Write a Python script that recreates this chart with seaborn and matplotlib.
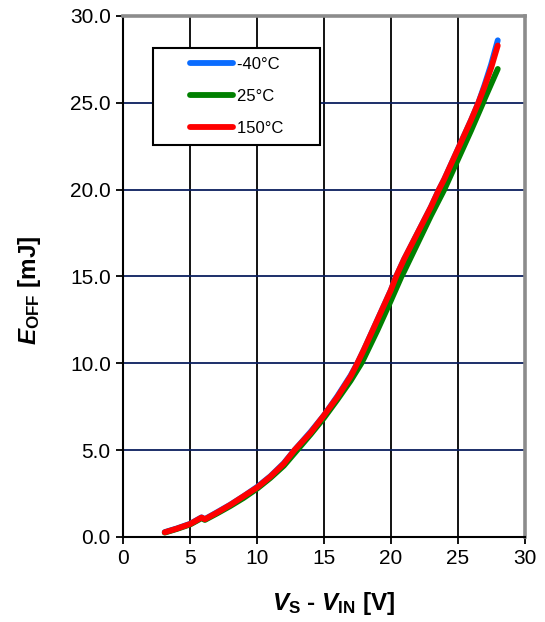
import numpy as np
import pandas as pd
import matplotlib
matplotlib.use('Agg')
import matplotlib.pyplot as plt
import seaborn as sns
from matplotlib.lines import Line2D
from matplotlib.legend_handler import HandlerLine2D

# ── datos ──
x_m40 = [3.1, 4, 5, 5.85, 6.1, 7, 8, 9, 10, 11, 12, 12.8, 14, 15, 16, 17, 17.5,
         18, 19, 20, 20.4, 21, 22, 23, 23.6, 24, 25, 26, 26.55, 27, 27.5, 28]
y_m40 = [0.28, 0.49, 0.76, 1.13, 1.03, 1.42, 1.86, 2.35, 2.88, 3.5, 4.25, 5.0, 6.05, 7.0, 8.1, 9.3, 10.0,
         10.8, 12.5, 14.2, 15.0, 16.0, 17.5, 19.0, 20.0, 20.6, 22.3, 24.0, 25.0, 26.0, 27.2, 28.6]

x_25 = [3.1, 4, 5, 5.85, 6.1, 7, 8, 9, 10, 11, 12, 13, 14, 15, 16, 17, 17.8,
        18, 19, 20, 20.8, 21, 22, 23, 24, 25, 26, 26.9, 27, 28]
y_25 = [0.25, 0.46, 0.72, 1.08, 0.98, 1.35, 1.78, 2.25, 2.78, 3.4, 4.1, 5.0, 5.9, 6.85, 7.9, 9.0, 10.0,
        10.3, 11.9, 13.6, 15.0, 15.3, 16.9, 18.5, 20.0, 21.7, 23.4, 25.0, 25.2, 26.95]

x_150 = [3.1, 4, 5, 5.85, 6.1, 7, 8, 9, 10, 11, 12, 12.8, 14, 15, 16, 17, 17.5,
         18, 19, 20, 20.4, 21, 22, 23, 23.6, 24, 25, 26, 26.55, 27, 27.5, 28]
y_150 = [0.27, 0.48, 0.75, 1.12, 1.02, 1.4, 1.85, 2.35, 2.85, 3.48, 4.22, 5.0, 6.0, 7.0, 8.05, 9.25, 10.0,
         10.8, 12.5, 14.2, 15.0, 16.0, 17.5, 19.0, 20.0, 20.6, 22.3, 24.0, 25.0, 25.9, 27.0, 28.3]

etiquetas = ['-40°C', '25°C', '150°C']
colores = ['#0a6cff', '#008000', '#ff0000']

x_ticks = [0, 5, 10, 15, 20, 25, 30]
y_ticks = [0, 5, 10, 15, 20, 25, 30]

sns.set_style('white')
plt.rcParams['font.family'] = ['Liberation Sans', 'DejaVu Sans']
plt.rcParams['text.color'] = 'black'
plt.rcParams['axes.labelcolor'] = 'black'
plt.rcParams['xtick.color'] = 'black'
plt.rcParams['ytick.color'] = 'black'
plt.rcParams['mathtext.fontset'] = 'custom'
plt.rcParams['mathtext.rm'] = 'Liberation Sans:bold'
plt.rcParams['mathtext.it'] = 'Liberation Sans:italic:bold'
plt.rcParams['mathtext.bf'] = 'Liberation Sans:bold'

fig = plt.figure(figsize=(5.45, 6.22), dpi=100)
ax = fig.add_axes([0.2262, 0.1367, 0.7362, 0.8376])

series = [(x_m40, y_m40), (x_25, y_25), (x_150, y_150)]
for (xs, ys), lab, col in zip(series, etiquetas, colores):
    df = pd.DataFrame({'x': xs, 'y': ys})
    sns.lineplot(data=df, x='x', y='y', ax=ax, color=col, label=lab, sort=False,
                 linewidth=4.2, solid_capstyle='round', zorder=3)

ax.set_xlim(0, 30)
ax.set_ylim(0, 30)
ax.set_xticks(x_ticks)
ax.set_yticks(y_ticks)
ax.set_yticklabels([f'{v:.1f}' for v in y_ticks])

# rejilla
for v in x_ticks[1:-1]:
    ax.axvline(v, color='black', lw=1.3, zorder=1)
for v in y_ticks[1:-1]:
    ax.axhline(v, color='#0b1f5e', lw=1.3, zorder=1)

for s in ['left', 'bottom']:
    ax.spines[s].set_color('black')
    ax.spines[s].set_linewidth(1.5)
for s in ['top', 'right']:
    ax.spines[s].set_color('#8c8c8c')
    ax.spines[s].set_linewidth(2.6)

ax.tick_params(axis='both', direction='out', length=5, width=1.3, color='black',
               labelcolor='black', labelsize=15, pad=4, bottom=True, left=True)

ax.set_xlabel(r'$V_{\mathrm{S}}$ - $V_{\mathrm{IN}}$ [V]', fontsize=17.5, fontweight='bold')
ax.set_ylabel(r'$E_{\mathrm{OFF}}$ [mJ]', fontsize=17.5, fontweight='bold')
ax.xaxis.set_label_coords(0.524, -0.101)
ax.yaxis.set_label_coords(-0.2, 0.474)

leg = ax.legend(loc='upper left', bbox_to_anchor=(0.074, 0.9386), borderaxespad=0,
                frameon=True, fancybox=False, edgecolor='black', framealpha=1,
                fontsize=12, handlelength=4.23, handletextpad=0.25, labelspacing=1.0,
                borderpad=0.56, handler_map={Line2D: HandlerLine2D(xpad=1.65)})
for t, lab in zip(leg.get_texts(), etiquetas):
    t.set_text(lab + '\u2007' * 3)
leg.get_frame().set_linewidth(1.5)
for h in leg.get_lines():
    h.set_linewidth(4.2)
    h.set_solid_capstyle('round')

fig.savefig('out.png', dpi=100)
